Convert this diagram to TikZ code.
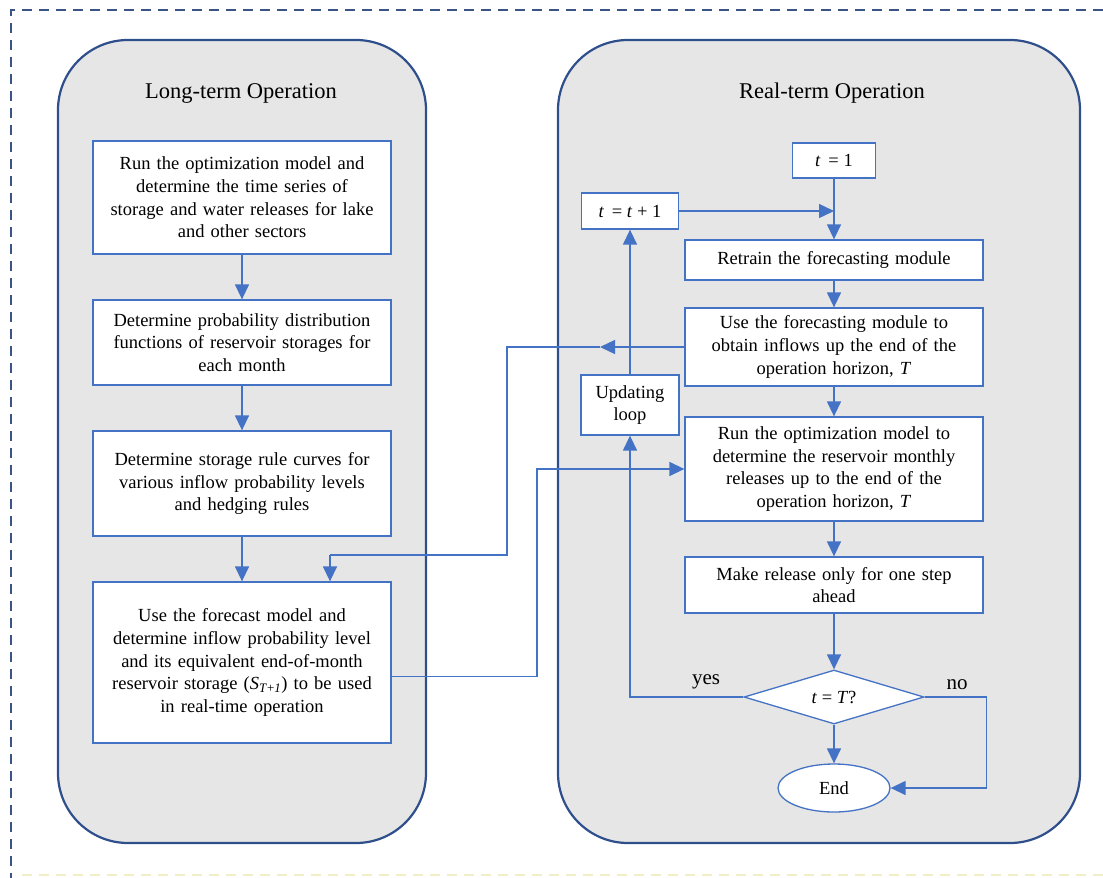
\documentclass[tikz,border=0pt]{standalone}
\usepackage{fontspec}
\setmainfont{Liberation Serif}
\usetikzlibrary{arrows.meta,shapes.geometric,calc}
\definecolor{lineblue}{HTML}{4472C4}
\definecolor{panelblue}{HTML}{2F4F8C}
\definecolor{panelfill}{HTML}{E6E6E6}
\definecolor{framecol}{HTML}{3A5486}
\definecolor{faintyel}{HTML}{F2EFC8}
\begin{document}
\begin{tikzpicture}[x=1pt,y=-1pt,
  panel/.style={draw=panelblue, line width=2.2pt, fill=panelfill, rounded corners=70pt, inner sep=0pt},
  title/.style={font=\fontsize{22.5}{26}\selectfont},
  box/.style={draw=lineblue, line width=1.3pt, fill=white, align=center, inner sep=2pt,
    font=\fontsize{18.5}{22.7}\selectfont},
  wbox/.style={box, minimum width=298pt, text width=294pt},
  conn/.style={draw=lineblue, line width=1.4pt},
  arr/.style={conn, -{Triangle[length=15pt,width=14pt]}},
  lab/.style={font=\fontsize{21}{24}\selectfont}
]
\useasboundingbox (0,0) rectangle (1103,878);
% outer dashed frame
\draw[framecol, line width=2pt, dash pattern=on 10pt off 7pt] (1103,10) -- (11,10) -- (11,878);
\draw[faintyel, line width=1.5pt, dash pattern=on 10pt off 7pt] (22,875) -- (1103,875);
% panels
\node[panel, minimum width=368pt, minimum height=803pt] (lp) at (242,441.5) {};
\node[panel, minimum width=522pt, minimum height=803pt] (rp) at (819,441.5) {};
\node[title] (lt) at (241,93) {Long-term Operation};
\node[title] (rt) at (832,93) {Real-term Operation};
% left boxes
\node[wbox, minimum height=113pt] (b1) at (242,197.5) {Run the optimization model and\\determine the time series of\\storage and water releases for lake\\and other sectors};
\node[wbox, minimum height=85pt] (b2) at (242,342.5) {Determine probability distribution\\functions of reservoir storages for\\each month};
\node[wbox, minimum height=105pt] (b3) at (242,483.5) {Determine storage rule curves for\\various inflow probability levels\\and hedging rules};
\node[wbox, minimum height=161pt] (b4) at (242,662.5) {Use the forecast model and\\determine inflow probability level\\and its equivalent end-of-month\\reservoir storage (\textit{S}\textsubscript{\textit{T}+\textit{1}}) to be used\\in real-time operation};
\draw[arr] (b1) -- (b2);
\draw[arr] (b2) -- (b3);
\draw[arr] (b3) -- (b4);
% right boxes
\node[box, minimum width=83pt, minimum height=35pt] (t1) at (834,160.5) {\textit{t}\, = 1};
\node[box, minimum width=97pt, minimum height=36pt] (tt) at (630,211) {\textit{t}\, = \textit{t} + 1};
\node[wbox, minimum height=40pt] (re) at (834,260) {Retrain the forecasting module};
\node[wbox, minimum height=78pt] (fc) at (834,347) {Use the forecasting module to\\obtain inflows up the end of the\\operation horizon, \textit{T}};
\node[box, minimum width=98pt, minimum height=60pt] (up) at (630,405) {Updating\\loop};
\node[wbox, minimum height=104pt] (ro) at (834,469) {Run the optimization model to\\determine the reservoir monthly\\releases up to the end of the\\operation horizon, \textit{T}};
\node[wbox, minimum height=56pt] (mr) at (834,585) {Make release only for one step\\ahead};
\node[draw=lineblue, line width=1.3pt, fill=white, diamond, aspect=3.33, minimum width=180pt, minimum height=54pt, inner sep=0pt, font=\fontsize{18.5}{20}\selectfont] (di) at (834,697) {\textit{t} = \textit{T}?};
\node[draw=lineblue, line width=1.3pt, fill=white, ellipse, minimum width=112pt, minimum height=48pt, inner sep=0pt, font=\fontsize{18.5}{20}\selectfont] (en) at (834,788) {End};
% right connectors
\draw[arr] (t1) -- (re);
\draw[arr] (tt.east) -- (tt.east -| t1.south);
\draw[arr] (re) -- (fc);
\draw[arr] (fc) -- (ro);
\draw[arr] (ro) -- (mr);
\draw[arr] (mr) -- (di);
\draw[arr] (di) -- (en);
\draw[arr] (di.east) -- ++(62pt,0pt) |- (en.east);
\draw[arr] (di.west) -| (up.south);
\draw[arr] (up.north) -- (tt.south);
\node[lab] (yes) at (706,682) {yes};
\node[lab] (no) at (957,685) {no};
% cross connectors
\coordinate (fa) at (600,347);
\draw[arr] (fc.west) -- (fa);
\draw[conn] (fa) -- (507,347) -- (507,555) -- (330,555);
\draw[arr] (330,555) -- ([xshift=88pt]b4.north);
\draw[arr] ([yshift=-14pt]b4.east) -- (537,676.5) |- (ro.west);
\end{tikzpicture}
\end{document}
